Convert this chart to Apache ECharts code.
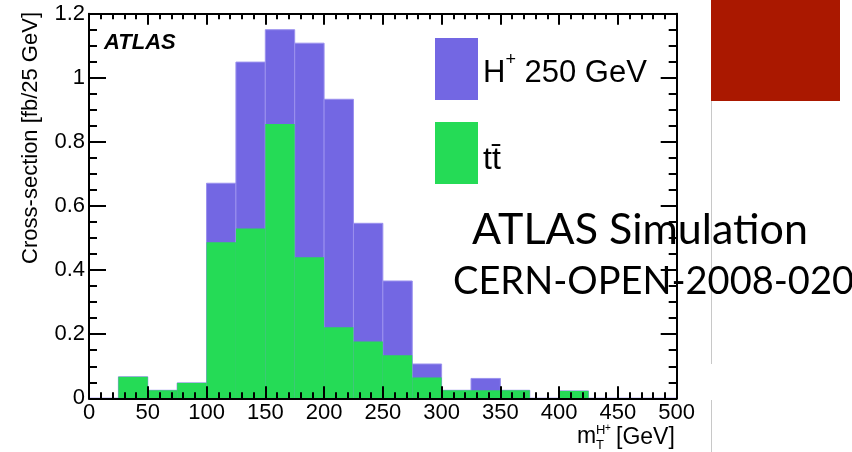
<!DOCTYPE html>
<html>
<head>
<meta charset="utf-8">
<script src="https://cdn.jsdelivr.net/npm/echarts@6/dist/echarts.min.js"></script>
<style>
  html, body { margin: 0; padding: 0; background: #fff; }
  #chart { width: 852px; height: 452px; }
</style>
</head>
<body>
<div id="chart"></div>
<script>
// Transverse mass histogram: bin edges in GeV (25 GeV bins)
const binLow  = [0, 25, 50, 75, 100, 125, 150, 175, 200, 225, 250, 275, 300, 325, 350, 375, 400, 425, 450, 475];
const binHigh = [25, 50, 75, 100, 125, 150, 175, 200, 225, 250, 275, 300, 325, 350, 375, 400, 425, 450, 475, 500];

// Cross-section per bin [fb/25 GeV]
const chargedHiggs = [0, 0.067, 0.025, 0.048, 0.671, 1.049, 1.150, 1.108, 0.933, 0.546, 0.366, 0.107, 0.025, 0.062, 0.025, 0, 0.023, 0, 0, 0];
const ttbar        = [0, 0.067, 0.025, 0.048, 0.487, 0.530, 0.856, 0.440, 0.222, 0.177, 0.134, 0.065, 0.025, 0.025, 0.025, 0, 0.023, 0, 0, 0];

const seriesNames = ['H+ 250 GeV', 'tt\u0304'];

const FONT = 'Liberation Sans, Arial, Helvetica, sans-serif';

function histData(values) {
  return values.map((v, i) => [binLow[i], binHigh[i], v]);
}

function renderBin(params, api) {
  const topLeft = api.coord([api.value(0), api.value(2)]);
  const bottomRight = api.coord([api.value(1), 0]);
  return {
    type: 'rect',
    shape: {
      x: topLeft[0],
      y: topLeft[1],
      width: bottomRight[0] - topLeft[0],
      height: bottomRight[1] - topLeft[1]
    },
    style: api.style()
  };
}

const axisLine = { show: true, onZero: false, lineStyle: { color: '#000', width: 2 } };

const chart = echarts.init(document.getElementById('chart'), null, { renderer: 'canvas' });

chart.setOption({
  animation: false,
  backgroundColor: '#fff',
  grid: { left: 89, right: 175.3, top: 13.7, bottom: 53.7 },
  legend: {
    orient: 'vertical',
    left: 435,
    top: 38,
    padding: 0,
    itemWidth: 43,
    itemHeight: 62,
    itemGap: 22,
    icon: 'rect',
    itemStyle: { borderWidth: 0 },
    selectedMode: false,
    data: seriesNames,
    formatter: function (name) {
      if (name === seriesNames[0]) return '{a|H}{s|+}{a| 250 GeV}';
      return '{b|' + name + '}';
    },
    textStyle: {
      fontFamily: FONT,
      color: '#000',
      fontSize: 31,
      rich: {
        a: { fontFamily: FONT, fontSize: 31, color: '#000', padding: [8, 0, 0, 0] },
        s: { fontFamily: FONT, fontSize: 18, color: '#000', verticalAlign: 'top', padding: [2, 0, 0, 0] },
        b: { fontFamily: FONT, fontSize: 32, color: '#000', padding: [14, 0, 0, 0] }
      }
    }
  },
  xAxis: [
    {
      type: 'value', min: 0, max: 500, interval: 50, position: 'bottom', z: 5,
      axisLine: axisLine,
      axisTick: { show: true, inside: true, length: 12, lineStyle: { color: '#000', width: 2 } },
      minorTick: { show: true, splitNumber: 5, length: 6, lineStyle: { color: '#000', width: 2 } },
      splitLine: { show: false },
      axisLabel: { color: '#000', fontFamily: FONT, fontSize: 22, margin: 4 }
    },
    {
      type: 'value', min: 0, max: 500, interval: 50, position: 'top', z: 5,
      axisLine: axisLine,
      axisTick: { show: true, inside: true, length: 11, lineStyle: { color: '#000', width: 2 } },
      minorTick: { show: true, splitNumber: 5, length: 5.5, lineStyle: { color: '#000', width: 2 } },
      splitLine: { show: false },
      axisLabel: { show: false }
    }
  ],
  yAxis: [
    {
      type: 'value', min: 0, max: 1.2, interval: 0.2, position: 'left', z: 5,
      axisLine: axisLine,
      axisTick: { show: true, inside: true, length: 17, lineStyle: { color: '#000', width: 2 } },
      minorTick: { show: true, splitNumber: 4, length: 8, lineStyle: { color: '#000', width: 2 } },
      splitLine: { show: false },
      axisLabel: { color: '#000', fontFamily: FONT, fontSize: 22, margin: 4 }
    },
    {
      type: 'value', min: 0, max: 1.2, interval: 0.2, position: 'right', z: 5,
      axisLine: axisLine,
      axisTick: { show: true, inside: true, length: 16, lineStyle: { color: '#000', width: 2 } },
      minorTick: { show: true, splitNumber: 4, length: 8, lineStyle: { color: '#000', width: 2 } },
      splitLine: { show: false },
      axisLabel: { show: false }
    }
  ],
  series: [
    {
      name: seriesNames[0],
      type: 'custom',
      xAxisIndex: 0, yAxisIndex: 0,
      z: 2,
      renderItem: renderBin,
      encode: { x: [0, 1], y: 2 },
      itemStyle: { color: '#7367e3', borderColor: '#9a90ee', borderWidth: 1 },
      data: histData(chargedHiggs)
    },
    {
      name: seriesNames[1],
      type: 'custom',
      xAxisIndex: 0, yAxisIndex: 0,
      z: 3,
      renderItem: renderBin,
      encode: { x: [0, 1], y: 2 },
      itemStyle: { color: '#25db56' },
      data: histData(ttbar)
    }
  ],
  graphic: [
    // experiment tag inside the frame
    { type: 'text', left: 104, top: 32, z: 10,
      style: { text: 'ATLAS', font: 'italic bold 22px ' + FONT, fill: '#000' } },
    // axis titles
    { type: 'text', x: 31, y: 12, rotation: Math.PI / 2, z: 10,
      style: { text: 'Cross-section [fb/25 GeV]', font: '22px ' + FONT, fill: '#000', align: 'right', verticalAlign: 'middle' } },
    { type: 'text', x: 577, y: 448, z: 10,
      style: { text: 'm', font: '23px ' + FONT, fill: '#000', align: 'left', verticalAlign: 'bottom' } },
    { type: 'text', x: 596, y: 437, z: 10,
      style: { text: 'H', font: '13px ' + FONT, fill: '#000', align: 'left', verticalAlign: 'bottom' } },
    { type: 'text', x: 605, y: 433, z: 10,
      style: { text: '+', font: '10px ' + FONT, fill: '#000', align: 'left', verticalAlign: 'bottom' } },
    { type: 'text', x: 596, y: 452, z: 10,
      style: { text: 'T', font: '13px ' + FONT, fill: '#000', align: 'left', verticalAlign: 'bottom' } },
    { type: 'text', x: 616, y: 449, z: 10,
      style: { text: '[GeV]', font: '23px ' + FONT, fill: '#000', align: 'left', verticalAlign: 'bottom' } },
    // slide decoration
    { type: 'rect', shape: { x: 711, y: 0, width: 129, height: 101 }, style: { fill: '#aa1800' }, z: 1 },
    { type: 'line', shape: { x1: 711.5, y1: 101, x2: 711.5, y2: 364 }, style: { stroke: '#c8c8c8', lineWidth: 1 }, z: 1 },
    { type: 'line', shape: { x1: 711.5, y1: 400, x2: 711.5, y2: 452 }, style: { stroke: '#c8c8c8', lineWidth: 1 }, z: 1 },
    // overlay captions
    { type: 'text', x: 472, y: 230, z: 20,
      style: { text: 'ATLAS Simulation', font: '400 43px Lato, sans-serif', fill: '#000', align: 'left', verticalAlign: 'middle' } },
    { type: 'text', x: 453, y: 282, z: 20,
      style: { text: 'CERN-OPEN-2008-020', font: '400 38px Lato, sans-serif', fill: '#000', align: 'left', verticalAlign: 'middle' } }
  ]
});
</script>
</body>
</html>
